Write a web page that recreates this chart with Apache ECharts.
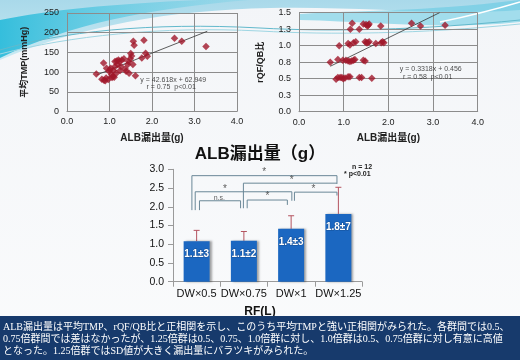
<!DOCTYPE html>
<html><head><meta charset="utf-8">
<script src="https://cdn.jsdelivr.net/npm/echarts@6/dist/echarts.min.js"></script>
<style>html,body{margin:0;padding:0;background:#fff}#c{width:520px;height:360px}</style>
</head><body><div id="c"></div>
<script>
// ---- Data ----
// Left scatter: ALB漏出量(g) vs 平均TMP(mmHg)
const tmpX = [0.69,0.86,0.82,0.87,0.92,0.90,0.93,0.97,0.99,1.03,1.05,1.08,1.09,1.11,1.13,1.13,1.16,1.17,1.19,1.21,1.23,1.25,1.27,1.29,1.34,1.37,1.39,1.43,1.45,1.46,1.49,1.50,1.52,1.55,1.56,1.58,1.61,1.76,1.81,1.85,1.89,2.53,2.70,3.27,1.06,1.01];
const tmpY = [95,123,82,79,85,78,110,81,102,110,93,89,104,87,127,114,97,128,119,131,127,104,114,131,134,108,102,119,127,97,134,147,141,119,178,168,91,136,181,148,140,186,178,165,86,106];
const tmpFit = {slope: 42.618, intercept: 62.949, xFrom: 0.7, xTo: 3.3};
const tmpEq = ['y = 42.618x + 62.949', 'r = 0.75  p<0.01'];
// Right scatter: ALB漏出量(g) vs rQF/QB比
const qfX = [0.83,0.87,0.92,0.96,0.99,1.03,1.10,1.14,1.35,1.40,1.63,
             0.70,0.87,0.98,1.05,1.10,1.14,1.18,1.22,1.25,1.44,1.48,
             0.90,1.10,1.14,1.22,1.27,1.48,1.51,1.54,1.57,1.72,1.84,1.87,1.90,
             1.15,1.19,1.35,1.44,1.50,1.53,1.55,1.57,1.83,2.52,2.72,3.27];
const qfY = [0.49,0.52,0.52,0.52,0.50,0.51,0.53,0.53,0.52,0.52,0.505,
             0.75,0.79,0.78,0.78,0.77,0.76,0.77,0.78,0.79,0.78,0.77,
             1.00,1.035,1.01,1.045,1.06,1.06,1.045,1.045,1.06,1.035,1.045,1.06,1.045,
             1.25,1.34,1.25,1.33,1.32,1.30,1.31,1.33,1.30,1.34,1.30,1.31];
const qfFit = {slope: 0.3318, intercept: 0.456, xFrom: 0.7, xTo: 3.15};
const qfEq = ['y = 0.3318x + 0.456', 'r = 0.58  p<0.01'];
// Bar chart
const barCats = ['DW×0.5','DW×0.75','DW×1','DW×1.25'];
const barMeans = [1.08, 1.09, 1.41, 1.81];
const barUpper = [1.37, 1.34, 1.76, 2.52];
const barLabels = ['1.1±3','1.1±2','1.4±3','1.8±7'];
// Significance brackets (category units, value units)
const brackets = [
  [[-0.10,1.91],[-0.10,2.83],[2.97,2.83],[2.97,2.61]],
  [[0.99,1.96],[0.99,2.63],[2.97,2.63]],
  [[-0.03,1.91],[-0.03,2.40],[2.015,2.40],[2.015,2.16]],
  [[2.07,2.16],[2.07,2.39],[2.97,2.39],[2.97,2.30]],
  [[0.06,1.91],[0.06,2.16],[0.93,2.16],[0.93,1.96]],
  [[1.07,1.96],[1.07,2.18],[1.92,2.18],[1.92,2.05]]
];
const starMarks = [[1.43,2.92,'*'],[2.01,2.71,'*'],[0.60,2.48,'*'],[2.47,2.48,'*'],[1.50,2.27,'*']];
const nsMarks = [[0.48,2.24,'n.s.']];
const noteLines = ['ALB漏出量は平均TMP、rQF/QB比と正相関を示し、このうち平均TMPと強い正相関がみられた。各群間では0.5、',
 '0.75倍群間では差はなかったが、1.25倍群は0.5、0.75、1.0倍群に対し、1.0倍群は0.5、0.75倍群に対し有意に高値',
 'となった。1.25倍群ではSD値が大きく漏出量にバラツキがみられた。'];

// ---- Chart ----
const chart = echarts.init(document.getElementById('c'), null, {renderer:'canvas'});
const sans = 'Liberation Sans, Arial, Noto Sans CJK JP, sans-serif';
const gridCol = '#8c8c8c';
function scatterX(gi, nameGap){
  return {type:'value', gridIndex:gi, min:0, max:4, interval:1,
    name:'ALB漏出量(g)', nameLocation:'middle', nameGap:nameGap,
    nameTextStyle:{fontFamily:sans, fontWeight:'bold', fontSize:10, color:'#222'},
    axisLine:{show:true, onZero:false, lineStyle:{color:gridCol}}, axisTick:{show:false},
    axisLabel:{fontFamily:sans, fontSize:9, color:'#222', margin:6, formatter:v=>v.toFixed(1)},
    splitLine:{show:true, lineStyle:{color:gridCol, width:1}}};
}
const pts = (xs, ys) => xs.map((x,i)=>[x, ys[i]]);
const fitLine = f => [[f.xFrom, f.slope*f.xFrom+f.intercept],[f.xTo, f.slope*f.xTo+f.intercept]];

const decor = [
  {type:'path', shape:{pathData:'M0,0 L520,0 L520,10 C440,16 360,6 270,8 C170,10 80,26 0,60 Z'},
    style:{fill:{type:'linear',x:0,y:0,x2:0,y2:1,colorStops:[{offset:0,color:'#a9d9ea'},{offset:1,color:'#c9eaf3'}]}}},
  {type:'path', shape:{pathData:'M0,20 C50,10 110,4 200,0 L250,0 C150,8 70,24 0,58 Z'},
    style:{fill:{type:'linear',x:0,y:0,x2:1,y2:0,colorStops:[{offset:0,color:'#35bedc'},{offset:1,color:'rgba(120,210,230,0.3)'}]}}},
  {type:'path', shape:{pathData:'M300,14 C360,10 420,12 520,0 L520,22 C440,30 380,22 300,20 Z'},
    style:{fill:'rgba(95,200,225,0.55)'}},
  {type:'path', shape:{pathData:'M0,50 C60,32 150,22 260,28 C330,32 420,30 520,20'},
    style:{fill:null, stroke:'#62b9cc', lineWidth:1}},
  {type:'path', shape:{pathData:'M0,54 C70,36 160,26 260,31 C330,35 420,34 520,24'},
    style:{fill:null, stroke:'#9fd6e3', lineWidth:1}},
  {type:'path', shape:{pathData:'M440,22 C470,16 500,8 520,2'},
    style:{fill:null, stroke:'#ffffff', lineWidth:1.5}}
];

const option = {
  animation:false,
  backgroundColor:{type:'linear',x:0,y:0,x2:0,y2:1,colorStops:[{offset:0,color:'#f3f5f8'},{offset:1,color:'#fafbfc'}]},
  graphic:[
    {type:'text', left:'center', top:146, style:{text:'ALB漏出量（g）', font:'bold 17px Liberation Sans, Noto Sans CJK JP', fill:'#111'}},
    {type:'text', left:352, top:164, style:{text:'n = 12', font:'bold 7px Liberation Sans', fill:'#222'}},
    {type:'text', left:344, top:171, style:{text:'* p<0.01', font:'bold 7px Liberation Sans', fill:'#222'}},
    {type:'text', left:'center', top:306, style:{text:'RF(L)', font:'bold 12px Liberation Sans', fill:'#111'}},
    {type:'rect', z:5, shape:{x:0, y:316, width:520, height:44}, style:{fill:'#173a6c'}},
    {type:'text', z:6, left:3, top:321, style:{text:noteLines.join('\n'), font:'10px Liberation Serif, Noto Sans CJK JP', lineHeight:12.2, fill:'#ffffff'}}
  ],
  grid:[
    {left:67, top:13, width:170, height:98.5, show:false},
    {left:299, top:12.7, width:178.7, height:99, show:false},
    {left:173, top:169.3, width:189, height:112.4, show:false}
  ],
  xAxis:[
    scatterX(0, 22),
    scatterX(1, 22),
    {type:'category', gridIndex:2, data:barCats,
      axisLine:{onZero:false, lineStyle:{color:'#9a9a9a'}}, axisTick:{show:true, length:5, lineStyle:{color:'#9a9a9a'}},
      axisLabel:{fontFamily:sans, fontSize:11, color:'#111', margin:7, interval:0}},
    {type:'value', gridIndex:2, min:-0.5, max:3.5, show:false}
  ],
  yAxis:[
    {type:'value', gridIndex:0, min:0, max:250, interval:50,
      name:'平均TMP(mmHg)', nameLocation:'middle', nameGap:38, nameRotate:90,
      nameTextStyle:{fontFamily:sans, fontWeight:'bold', fontSize:9, color:'#222'},
      axisLine:{show:true, onZero:false, lineStyle:{color:gridCol}}, axisTick:{show:false},
      axisLabel:{fontFamily:sans, fontSize:9, color:'#222', margin:8},
      splitLine:{show:true, lineStyle:{color:gridCol}}},
    {type:'value', gridIndex:1, min:0, max:1.5, interval:0.25,
      name:'rQF/QB比', nameLocation:'middle', nameGap:34, nameRotate:90,
      nameTextStyle:{fontFamily:sans, fontWeight:'bold', fontSize:9, color:'#222'},
      axisLine:{show:true, onZero:false, lineStyle:{color:gridCol}}, axisTick:{show:false},
      axisLabel:{fontFamily:sans, fontSize:9, color:'#222', margin:8, formatter:v=>v.toFixed(1)},
      splitLine:{show:true, lineStyle:{color:gridCol}}},
    {type:'value', gridIndex:2, min:0, max:3, interval:0.5,
      axisLine:{show:true, onZero:false, lineStyle:{color:'#9a9a9a'}}, axisTick:{show:true, length:5, lineStyle:{color:'#9a9a9a'}},
      axisLabel:{fontFamily:sans, fontSize:10.5, color:'#111', margin:9, formatter:v=>v.toFixed(1)},
      splitLine:{show:false}}
  ],
  series:[
    {type:'custom', coordinateSystem:'none', data:[0], silent:true, z:-10,
      renderItem:()=>({type:'group', children:decor})},
    {type:'scatter', xAxisIndex:0, yAxisIndex:0, data:pts(tmpX,tmpY), symbol:'diamond', symbolSize:7.5,
      itemStyle:{color:'#a0182b'}, z:3},
    {type:'line', xAxisIndex:0, yAxisIndex:0, data:fitLine(tmpFit), symbol:'none', lineStyle:{color:'#333', width:0.8}, z:2},
    {type:'scatter', xAxisIndex:1, yAxisIndex:1, data:pts(qfX,qfY), symbol:'diamond', symbolSize:7.5,
      itemStyle:{color:'#a0182b'}, z:3},
    {type:'line', xAxisIndex:1, yAxisIndex:1, data:fitLine(qfFit), symbol:'none', lineStyle:{color:'#333', width:0.8}, z:2},
    {type:'scatter', xAxisIndex:0, yAxisIndex:0, symbolSize:0, silent:true,
      data:[[2.5,79,tmpEq[0]],[2.45,61,tmpEq[1]]],
      label:{show:true, position:'inside', formatter:p=>p.value[2], fontFamily:sans, fontSize:7, color:'#222'}},
    {type:'scatter', xAxisIndex:1, yAxisIndex:1, symbolSize:0, silent:true,
      data:[[2.95,0.64,qfEq[0]],[2.88,0.53,qfEq[1]]],
      label:{show:true, position:'inside', formatter:p=>p.value[2], fontFamily:sans, fontSize:7, color:'#222'}},
    {type:'bar', xAxisIndex:2, yAxisIndex:2, data:barMeans, barWidth:26,
      itemStyle:{color:'#1b67c1', shadowColor:'rgba(0,0,0,0.35)', shadowBlur:2, shadowOffsetX:2},
      label:{show:true, position:'insideTop', distance:8, formatter:p=>barLabels[p.dataIndex],
        fontFamily:sans, fontWeight:'bold', fontSize:10, color:'#ffffff', textBorderColor:'#164f96', textBorderWidth:1}},
    {type:'custom', xAxisIndex:2, yAxisIndex:2, z:1,
      data:barMeans.map((m,i)=>[i,m,barUpper[i]]),
      renderItem:(params, api)=>{
        const a = api.coord([api.value(0), api.value(1)]);
        const b = api.coord([api.value(0), api.value(2)]);
        const st = {stroke:'#b4535f', lineWidth:1};
        return {type:'group', children:[
          {type:'line', shape:{x1:a[0], y1:a[1], x2:b[0], y2:b[1]}, style:st},
          {type:'line', shape:{x1:b[0]-3, y1:b[1], x2:b[0]+3, y2:b[1]}, style:st}
        ]};
      }},
    ...brackets.map(br=>({type:'line', xAxisIndex:3, yAxisIndex:2, data:br, symbol:'none',
      lineStyle:{color:'#6a8797', width:1}, z:2})),
    {type:'scatter', xAxisIndex:3, yAxisIndex:2, symbolSize:0, silent:true,
      data:starMarks,
      label:{show:true, position:'inside', formatter:p=>p.value[2], fontFamily:sans, fontSize:10, color:'#333'}},
    {type:'scatter', xAxisIndex:3, yAxisIndex:2, symbolSize:0, silent:true,
      data:nsMarks,
      label:{show:true, position:'inside', formatter:p=>p.value[2], fontFamily:sans, fontSize:7, color:'#333'}}
  ]
};
chart.setOption(option);
</script></body></html>
